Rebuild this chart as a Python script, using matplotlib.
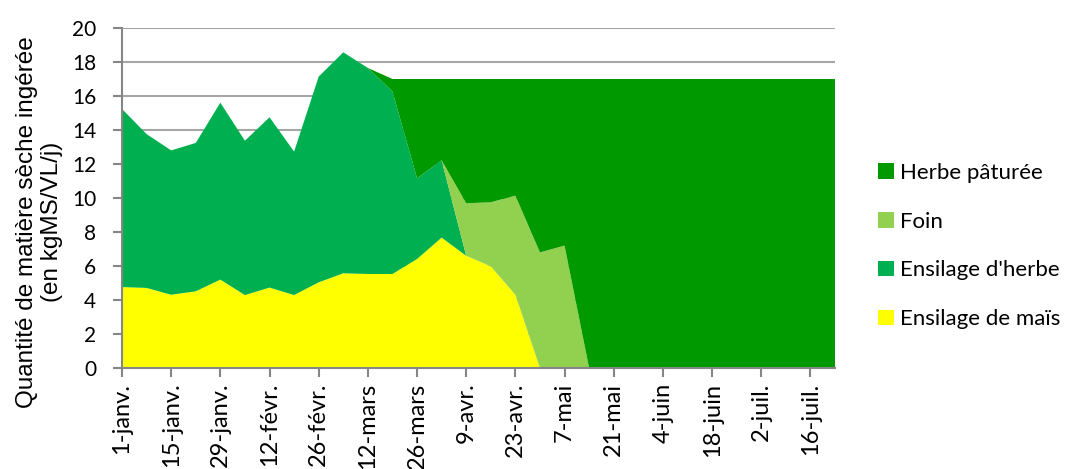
import matplotlib
matplotlib.use("Agg")
import matplotlib.pyplot as plt
import numpy as np
from matplotlib.patches import Patch

weeks = list(range(30))
tick_labels = ["1-janv.", "15-janv.", "29-janv.", "12-févr.", "26-févr.", "12-mars",
               "26-mars", "9-avr.", "23-avr.", "7-mai", "21-mai", "4-juin",
               "18-juin", "2-juil.", "16-juil."]

ensilage_mais = [4.76, 4.71, 4.31, 4.51, 5.2, 4.29, 4.73, 4.29, 5.04, 5.57,
                 5.53, 5.53, 6.41, 7.67, 6.6, 5.98, 4.31, 0, 0, 0,
                 0, 0, 0, 0, 0, 0, 0, 0, 0, 0]
ensilage_herbe = [10.48, 9.05, 8.49, 8.73, 10.41, 9.08, 10.02, 8.44, 12.1, 13.0,
                  12.12, 10.74, 4.75, 4.55, 0, 0, 0, 0, 0, 0,
                  0, 0, 0, 0, 0, 0, 0, 0, 0, 0]
foin = [0, 0, 0, 0, 0, 0, 0, 0, 0, 0,
        0, 0, 0, 0, 3.09, 3.77, 5.83, 6.8, 7.2, 0,
        0, 0, 0, 0, 0, 0, 0, 0, 0, 0]
herbe_paturee = [0, 0, 0, 0, 0, 0, 0, 0, 0, 0,
                 0, 0.73, 5.84, 4.78, 7.31, 7.25, 6.86, 10.2, 9.8, 17,
                 17, 17, 17, 17, 17, 17, 17, 17, 17, 17]

names = ["Ensilage de maïs", "Ensilage d'herbe", "Foin", "Herbe pâturée"]
colors = ["#FFFF00", "#00B050", "#92D050", "#009900"]

W, H = 1078, 469
fig = plt.figure(figsize=(W/100, H/100), dpi=100)
ax = fig.add_axes([122/W, 1-368/H, (835-122)/W, (368-28)/H])

ax.stackplot(weeks, ensilage_mais, ensilage_herbe, foin, herbe_paturee,
             colors=colors, linewidth=0, zorder=2)

ax.set_xlim(0, 29)
ax.set_ylim(0, 20)
ax.set_yticks(np.arange(0, 21, 2))
ax.set_xticks(np.arange(0, 29, 2))
ax.set_xticklabels(tick_labels, rotation=90, family="Lato", fontsize=17)
for lbl in ax.get_yticklabels():
    lbl.set_family("Lato")
    lbl.set_fontsize(15)

ax.yaxis.grid(True, color="#A6A6A6", linewidth=1.5, zorder=0)
ax.set_axisbelow(True)
for s in ["top", "right"]:
    ax.spines[s].set_visible(False)
for s in ["left", "bottom"]:
    ax.spines[s].set_color("#868686")
    ax.spines[s].set_linewidth(1.5)
ax.tick_params(axis="both", direction="out", length=6.5, width=1.5, color="#868686",
               labelcolor="black")
ax.tick_params(axis="y", pad=12)
ax.tick_params(axis="x", pad=4)

fig.text(39.5/W, 1-222/H, "Quantité de matière sèche ingérée\n(en kgMS/VL/j)",
         family="Liberation Sans", fontsize=17.5, rotation=90,
         ha="center", va="center", linespacing=1.15, multialignment="center")

handles = [Patch(facecolor=c, edgecolor="none") for c in colors][::-1]
leg = fig.legend(handles, names[::-1], loc="center left",
                 bbox_to_anchor=(858/W, 1-246/H), frameon=False,
                 prop={"family": "Lato", "size": 16}, labelspacing=1.3,
                 handlelength=0.7, handleheight=0.7, handletextpad=0.3)

fig.savefig("out.png", dpi=100)
